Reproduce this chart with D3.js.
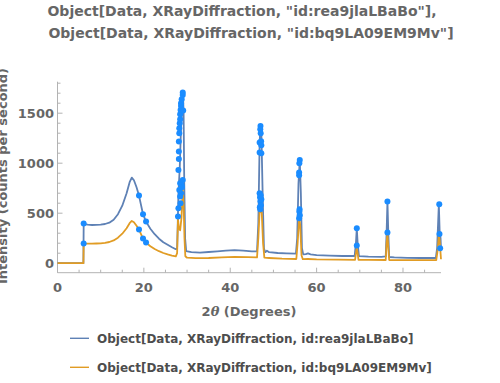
<!DOCTYPE html>
<html lang="en">
<head>
    <meta charset="UTF-8" />
    <title>XRD comparison</title>
    <script src="https://d3js.org/d3.v7.min.js"></script>
    <style>
        body { margin: 0; background: #fff; }
        svg text { font-family: "DejaVu Sans", sans-serif; font-weight: bold; }
    </style>
</head>
<body>
<svg id="chart" width="500" height="383"></svg>
<script>
    // series 1 (blue): 2θ in degrees and intensity in counts per second
    const blueX = [0, 6.0, 6.06, 7, 8, 9, 10, 11, 12, 13, 14, 15, 16, 16.7, 17.2, 17.7, 18.3, 18.87, 19.8, 20.5,
        21.5, 22.5, 23.5, 24.5, 25.5, 26.5, 27.4, 27.7, 27.85, 28.0, 28.3, 28.6, 28.9, 29.05, 29.2, 29.35, 29.55,
        29.8, 31, 33, 35, 37, 39, 41, 43, 45, 46.2, 46.5, 46.8, 47.0, 47.2, 47.5, 47.8, 48.1, 48.5, 49, 51, 53,
        55.2, 55.5, 55.8, 56.1, 56.35, 56.6, 56.9, 57.5, 58, 58.6, 60, 63, 66, 68.8, 69.1, 69.3, 69.5, 69.8, 72,
        75, 76.0, 76.2, 76.4, 76.6, 76.8, 78, 81, 84, 87.6, 87.9, 88.3, 88.5, 88.7, 88.8];
    const blueY = [0, 0, 390, 385, 382, 384, 386, 392, 405, 435, 490, 575, 700, 810, 856, 830, 760, 676, 490, 416,
        345, 290, 245, 210, 185, 160, 140, 150, 400, 700, 950, 1350, 1650, 1710, 1500, 800, 250,
        120, 110, 105, 112, 118, 125, 130, 125, 118, 118, 400, 1200, 1380, 1320, 700, 150, 110, 125, 110, 102, 98,
        95, 250, 800, 1033, 700, 150, 88, 90, 98, 88, 80, 75, 72, 72, 200, 350, 200, 70, 66,
        64, 68, 300, 616, 300, 62, 58, 54, 52, 52, 150, 590, 300, 250, 150];

    // series 2 (orange)
    const orangeX = [0, 6.0, 6.06, 7, 8, 9, 10, 11, 12, 13, 14, 15, 16, 16.7, 17.2, 17.7, 18.3, 18.87, 19.8, 20.5,
        21.5, 22.5, 23.5, 24.5, 25.5, 26.5, 27.4, 27.7, 27.9, 28.1, 28.4, 28.7, 29.0, 29.2, 29.4, 29.6, 30, 32,
        35, 38, 41, 44, 46.2, 46.5, 46.8, 47.0, 47.3, 47.6, 47.9, 49, 52, 55.3, 55.6, 55.95, 56.2, 56.5, 56.8,
        58, 60, 65, 68.9, 69.2, 69.3, 69.5, 69.7, 72, 76.0, 76.2, 76.4, 76.6, 76.8, 80, 84, 87.7, 88.0, 88.3,
        88.5, 88.7, 88.8];
    const orangeY = [0, 0, 195, 196, 195, 197, 199, 203, 212, 228, 255, 295, 350, 400, 423, 410, 375, 336, 246, 206,
        170, 142, 120, 102, 88, 76, 68, 100, 440, 350, 330, 450, 740, 600, 250, 70, 55, 50,
        52, 58, 63, 60, 58, 250, 520, 545, 500, 200, 55, 52, 45, 42, 200, 450, 380, 80, 40,
        42, 38, 35, 33, 130, 148, 100, 34, 33, 32, 200, 300, 150, 32, 30, 30, 30, 120, 280,
        230, 100, 40];

    // highlighted points
    const dotX = [6.06, 6.06, 18.87, 19.8, 20.5, 18.87, 19.8, 20.5,
        27.9, 28.0, 28.0, 28.1, 28.1, 28.1, 28.2, 28.2, 28.3, 28.4, 28.4, 28.5, 28.6, 28.6, 28.75, 29.0, 29.0, 29.1,
        28.75, 28.4, 28.6, 28.4, 28.5, 29.0, 28.2, 28.8,
        47.0, 46.95, 47.05, 46.8, 47.15, 47.2, 46.8, 47.2, 46.8, 46.9, 47.0, 47.1, 47.2, 46.85, 47.05, 46.95,
        56.1, 56.0, 55.95, 55.95, 56.05, 56.0, 55.95, 56.1,
        69.3, 69.3, 76.4, 76.4, 88.4, 88.45, 88.6];
    const dotY = [396, 196, 676, 490, 416, 336, 246, 206,
        466, 550, 933, 1043, 1116, 1216, 1300, 1350, 1400, 1440, 1490, 1533, 1573, 1600, 1640, 1683, 1706, 1527,
        783, 800, 700, 667, 600, 833, 733, 760,
        1373, 1340, 1300, 1206, 1220, 1180, 1106, 1100, 700, 660, 620, 580, 640, 560, 680, 540,
        1033, 1000, 906, 880, 540, 516, 450, 480,
        350, 176, 616, 306, 590, 293, 150];

    const xTicks = [0, 20, 40, 60, 80];
    const yTicks = [0, 500, 1000, 1500];
    const titleLines = ['Object[Data, XRayDiffraction, "id:rea9jlaLBaBo"],',
        'Object[Data, XRayDiffraction, "id:bq9LA09EM9Mv"]'];
    const legendLabels = ["Object[Data, XRayDiffraction, id:rea9jlaLBaBo]",
        "Object[Data, XRayDiffraction, id:bq9LA09EM9Mv]"];

    const blue = "#5e81b5", orange = "#e19c24", dotColor = "#1a8cff";
    const axisColor = "#b3b3b3", textColor = "#666";

    const svg = d3.select("#chart");

    const x = d3.scaleLinear().domain([0, 88.8]).range([57.5, 441]);
    const y = d3.scaleLinear().domain([-95, 1815]).range([272.7, 81.7]);

    // title
    svg.selectAll("text.title")
        .data(titleLines)
        .enter().append("text")
        .attr("class", "title")
        .attr("x", (d, i) => i === 0 ? 242 : 251)
        .attr("y", (d, i) => 16 + i * 21.5)
        .attr("text-anchor", "middle")
        .attr("fill", textColor)
        .attr("font-size", "14px")
        .text(d => d);

    // axes
    const g = svg.append("g");
    g.append("line")
        .attr("x1", x.range()[0]).attr("x2", x.range()[1])
        .attr("y1", y.range()[0]).attr("y2", y.range()[0])
        .attr("stroke", axisColor);
    g.append("line")
        .attr("x1", x.range()[0]).attr("x2", x.range()[0])
        .attr("y1", y.range()[0]).attr("y2", y.range()[1])
        .attr("stroke", axisColor);

    // minor + major ticks, pointing into the plot
    d3.range(0, 89, 5).forEach(v => {
        const major = v % 20 === 0;
        g.append("line")
            .attr("x1", x(v)).attr("x2", x(v))
            .attr("y1", y.range()[0]).attr("y2", y.range()[0] - (major ? 5 : 3))
            .attr("stroke", axisColor);
    });
    d3.range(0, 1801, 100).forEach(v => {
        const major = v % 500 === 0;
        g.append("line")
            .attr("x1", x.range()[0]).attr("x2", x.range()[0] + (major ? 5 : 3))
            .attr("y1", y(v)).attr("y2", y(v))
            .attr("stroke", axisColor);
    });

    g.selectAll("text.xt")
        .data(xTicks)
        .enter().append("text")
        .attr("x", d => x(d))
        .attr("y", 292)
        .attr("text-anchor", "middle")
        .attr("fill", textColor)
        .attr("font-size", "13px")
        .text(d => d);

    g.selectAll("text.yt")
        .data(yTicks)
        .enter().append("text")
        .attr("x", 54)
        .attr("y", d => y(d) + 4.7)
        .attr("text-anchor", "end")
        .attr("fill", textColor)
        .attr("font-size", "13px")
        .text(d => d);

    // axis labels
    const xl = svg.append("text")
        .attr("x", 249)
        .attr("y", 316)
        .attr("text-anchor", "middle")
        .attr("fill", textColor)
        .attr("font-size", "13px");
    xl.append("tspan").text("2");
    xl.append("tspan").attr("font-style", "italic").attr("font-family", "DejaVu Serif, serif").text("θ");
    xl.append("tspan").text(" (Degrees)");

    // the reference clips this label at the left edge as well
    svg.append("text")
        .attr("transform", "translate(7,176) rotate(-90)")
        .attr("text-anchor", "middle")
        .attr("fill", textColor)
        .attr("font-size", "13px")
        .text("Intensity (counts per second)");

    // curves
    const line = d3.line()
        .x(d => x(d[0]))
        .y(d => y(d[1]));

    const bluePts = blueX.map((v, i) => [v, blueY[i]]);
    const orangePts = orangeX.map((v, i) => [v, orangeY[i]]);

    svg.append("path")
        .datum(bluePts)
        .attr("d", line)
        .attr("fill", "none")
        .attr("stroke", blue)
        .attr("stroke-width", 1.8)
        .attr("stroke-linejoin", "round");

    svg.append("path")
        .datum(orangePts)
        .attr("d", line)
        .attr("fill", "none")
        .attr("stroke", orange)
        .attr("stroke-width", 1.8)
        .attr("stroke-linejoin", "round");

    svg.selectAll("circle.dot")
        .data(dotX.map((v, i) => [v, dotY[i]]))
        .enter().append("circle")
        .attr("class", "dot")
        .attr("cx", d => x(d[0]))
        .attr("cy", d => y(d[1]))
        .attr("r", 3)
        .attr("fill", dotColor);

    // legend
    const leg = svg.append("g");
    [blue, orange].forEach((c, i) => {
        const ly = 338.3 + i * 29;
        leg.append("line")
            .attr("x1", 70).attr("x2", 89)
            .attr("y1", ly).attr("y2", ly)
            .attr("stroke", c)
            .attr("stroke-width", 1.4);
        leg.append("text")
            .attr("x", 97)
            .attr("y", ly + 4.3)
            .attr("fill", "#4d4d4d")
            .attr("font-size", "12px")
            .text(legendLabels[i]);
    });
</script>
</body>
</html>
